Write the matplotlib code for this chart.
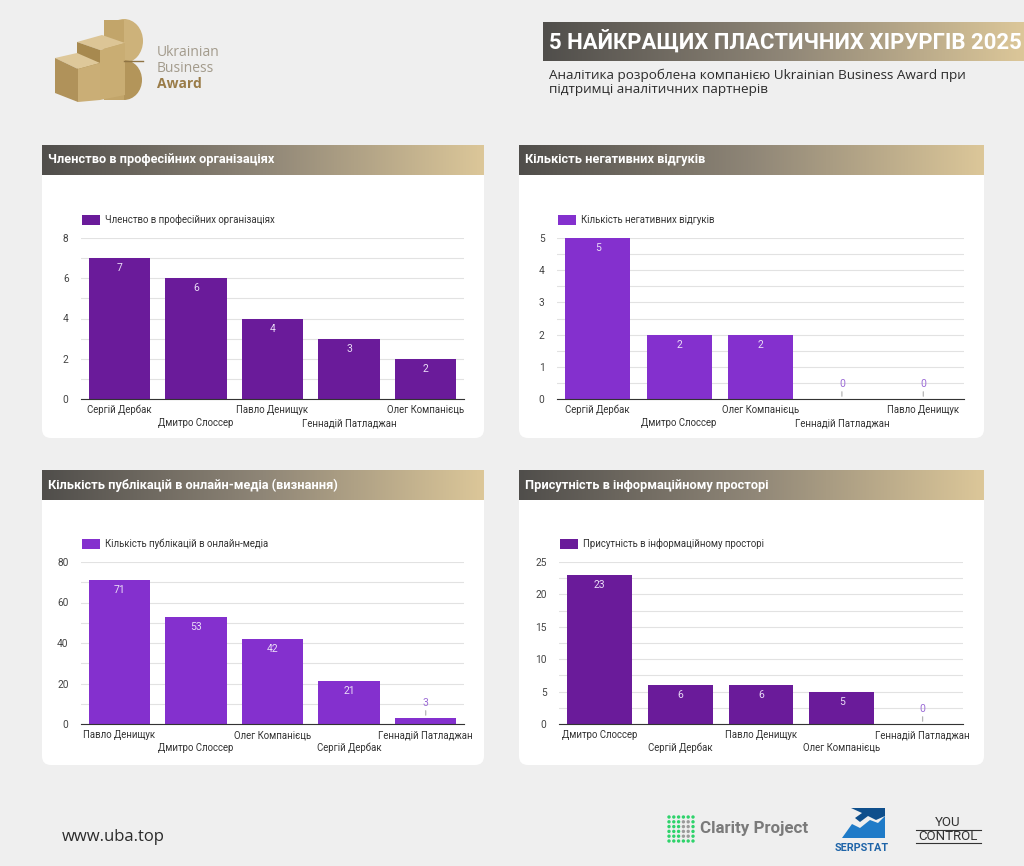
import numpy as np
import matplotlib
matplotlib.use("Agg")
import matplotlib.pyplot as plt
from matplotlib.patches import FancyBboxPatch, Rectangle, Polygon, Circle, Ellipse
from matplotlib.colors import LinearSegmentedColormap

plt.rcParams['font.family'] = ['Roboto', 'DejaVu Sans']

# ---- data ----
membership_names = ['Сергій Дербак', 'Дмитро Слоссер', 'Павло Денищук', 'Геннадій Патладжан', 'Олег Компанієць']
membership_values = [7, 6, 4, 3, 2]

negative_names = ['Сергій Дербак', 'Дмитро Слоссер', 'Олег Компанієць', 'Геннадій Патладжан', 'Павло Денищук']
negative_values = [5, 2, 2, 0, 0]

publication_names = ['Павло Денищук', 'Дмитро Слоссер', 'Олег Компанієць', 'Сергій Дербак', 'Геннадій Патладжан']
publication_values = [71, 53, 42, 21, 3]

presence_names = ['Дмитро Слоссер', 'Сергій Дербак', 'Павло Денищук', 'Олег Компанієць', 'Геннадій Патладжан']
presence_values = [23, 6, 6, 5, 0]

W, H = 1024, 866
DARK_PURPLE = '#6a1b9a'
LIGHT_PURPLE = '#8430ce'

fig = plt.figure(figsize=(W / 100, H / 100), dpi=100)
fig.patch.set_facecolor('#efefef')
bg = fig.add_axes([0, 0, 1, 1])
bg.set_facecolor('#efefef')
gold_cmap = LinearSegmentedColormap.from_list('gold', ['#504e4b', '#8f8677', '#dcc799'])


def gradient_bar(x0, y0, x1, y1):
    grad = np.linspace(0, 1, 256)[None, :]
    bg.imshow(grad, extent=[x0, x1, y1, y0], aspect='auto', cmap=gold_cmap, zorder=2)


def px_axes(x0, y0, x1, y1):
    return fig.add_axes([x0 / W, 1 - y1 / H, (x1 - x0) / W, (y1 - y0) / H])


# ---- header ----
gradient_bar(543, 22, 1024, 61)
bg.text(549, 42, '5 НАЙКРАЩИХ ПЛАСТИЧНИХ ХІРУРГІВ 2025', color='white',
        fontsize=15.9, fontweight='bold', va='center', ha='left', zorder=3)
bg.text(549, 75, 'Аналітика розроблена компанією Ukrainian Business Award при',
        family=['Open Sans', 'DejaVu Sans'], fontsize=9.7, color='#2b2b2b', va='center')
bg.text(549, 90, 'підтримці аналітичних партнерів',
        family=['Open Sans', 'DejaVu Sans'], fontsize=9.7, color='#2b2b2b', va='center')

# logo (simplified gold blocks)
bg.add_patch(Ellipse((124, 41), 38, 44, fc='#cdb27a', ec='none', zorder=2.8))
bg.add_patch(Ellipse((124, 80), 36, 40, fc='#b3955a', ec='none', zorder=2.8))
bg.add_patch(Rectangle((104, 20), 20, 80, fc='#c2a56a', ec='none', zorder=2.85))
logo_parts = [
    ([(77, 42), (102, 35), (125, 43), (100, 50)], '#dcc596'),
    ([(77, 42), (100, 50), (100, 100), (77, 92)], '#a7894f'),
    ([(100, 50), (125, 43), (125, 95), (100, 100)], '#c9ad73'),
    ([(55, 58), (77, 53), (100, 63), (78, 69)], '#dec89a'),
    ([(55, 58), (78, 69), (78, 102), (55, 93)], '#b0925a'),
    ([(78, 69), (100, 63), (100, 100), (78, 102)], '#caae76'),
]
for pts, col in logo_parts:
    bg.add_patch(Polygon(pts, closed=True, fc=col, ec='none', zorder=3))
bg.plot([124, 143], [61, 61], color='#8f7444', lw=1, zorder=3)
bg.text(157, 52, 'Ukrainian', family=['Open Sans', 'DejaVu Sans'], fontsize=10,
        color='#a39b8c', va='center')
bg.text(157, 68, 'Business', family=['Open Sans', 'DejaVu Sans'], fontsize=10,
        color='#a39b8c', va='center')
bg.text(157, 84, 'Award', family=['Open Sans', 'DejaVu Sans'], fontsize=10,
        color='#9a7c48', va='center', fontweight='bold')


# ---- panels ----
def panel(box, plot, title, legend, names, values, color, ticks):
    x0, y0, x1, y1 = box
    bg.add_patch(FancyBboxPatch((x0, y0), x1 - x0, y1 - y0,
                                boxstyle='round,pad=0,rounding_size=9',
                                fc='white', ec='none', zorder=1))
    gradient_bar(x0, y0, x1, y0 + 30)
    bg.text(x0 + 6, y0 + 15, title, color='white', fontsize=9.2,
            fontweight='bold', va='center', zorder=3)

    px0, py0, px1, py1 = plot
    bg.add_patch(Rectangle((px0 + 1, py0 - 23), 18, 10, fc=color, ec='none', zorder=3))
    bg.text(px0 + 24, py0 - 18, legend, fontsize=6.9, color='#333333', va='center', zorder=3)

    ax = px_axes(*plot)
    n = len(values)
    ymax = ticks[-1]
    step = ticks[1] - ticks[0]
    ax.bar(range(n), values, width=0.8, color=color, zorder=2)
    ax.set_xlim(-0.5, n - 0.5)
    ax.set_ylim(0, ymax)
    ax.set_yticks(ticks)
    ax.set_yticks(np.arange(step / 2, ymax, step), minor=True)
    ax.grid(axis='y', which='both', color='#e2e2e2', lw=0.8, zorder=0)
    ax.set_xticks([])
    ax.tick_params(axis='y', which='both', length=0, pad=9, labelsize=7.3, labelcolor='#444444')
    for s in ['top', 'right', 'left']:
        ax.spines[s].set_visible(False)
    ax.spines['bottom'].set_color('#333333')
    ax.spines['bottom'].set_zorder(3)
    ax.set_facecolor('none')

    height_px = py1 - py0
    for i, (name, v) in enumerate(zip(names, values)):
        off = -11 if i % 2 == 0 else -24
        ax.annotate(name, (i, 0), xycoords=('data', 'axes fraction'),
                    xytext=(0, off), textcoords='offset pixels',
                    ha='center', va='center', fontsize=6.9, color='#333333',
                    annotation_clip=False)
        if v / ymax * height_px < 18:
            ax.annotate(str(v), (i, v), xytext=(0, 15), textcoords='offset pixels',
                        ha='center', va='center', fontsize=7.5, color='#9b6bd6',
                        annotation_clip=False)
            ax.annotate('', (i, v), xytext=(0, 10), textcoords='offset pixels',
                        arrowprops=dict(arrowstyle='-', color='#b5b5b5', lw=0.9))
        else:
            ax.annotate(str(v), (i, v), xytext=(0, -10), textcoords='offset pixels',
                        ha='center', va='center', fontsize=7.5, color='#eadcf7')
    return ax


panel((42, 145, 484, 438), (81, 238, 464, 399),
      'Членство в професійних організаціях', 'Членство в професійних організаціях',
      membership_names, membership_values, DARK_PURPLE, [0, 2, 4, 6, 8])
panel((519, 145, 984, 438), (557, 238, 964, 399),
      'Кількість негативних відгуків', 'Кількість негативних відгуків',
      negative_names, negative_values, LIGHT_PURPLE, [0, 1, 2, 3, 4, 5])
panel((42, 470, 484, 765), (81, 562, 464, 724),
      'Кількість публікацій в онлайн-медіа (визнання)', 'Кількість публікацій в онлайн-медіа',
      publication_names, publication_values, LIGHT_PURPLE, [0, 20, 40, 60, 80])
panel((519, 470, 984, 765), (559, 562, 963, 724),
      'Присутність в інформаційному просторі', 'Присутність в інформаційному просторі',
      presence_names, presence_values, DARK_PURPLE, [0, 5, 10, 15, 20, 25])

# ---- footer ----
bg.text(62, 837, 'www.uba.top', family=['Open Sans', 'DejaVu Sans'], fontsize=12,
        color='#2b2b2b', va='center')

# Clarity Project logo
for r in range(6):
    for c in range(6):
        col = '#2ed36b' if (c < 3 or r in (0, 5) or c == 5) else '#9a9a9a'
        bg.add_patch(Circle((669 + c * 4.8, 817 + r * 4.8), 1.7, fc=col, ec='none', zorder=3))
bg.text(700, 829, 'Clarity Project', fontsize=12.2, fontweight='bold', color='#7a7a7a', va='center')

# Serpstat logo
bg.add_patch(Polygon([(842, 838), (852, 824), (860, 828), (870, 820), (878, 823), (885, 816), (885, 838)],
                     closed=True, fc='#1f7bc8', ec='none', zorder=3))
bg.add_patch(Polygon([(851, 808), (885, 808), (885, 816), (876, 820), (868, 816), (860, 822), (855, 818), (862, 813)],
                     closed=True, fc='#0f4f8c', ec='none', zorder=3))
bg.text(862, 848, 'SERPSTAT', fontsize=7.8, fontweight='bold', color='#1e64a8',
        va='center', ha='center')

# YouControl logo
bg.text(948, 822, 'YOU', fontsize=9.5, color='#333333', va='center', ha='center')
bg.plot([916, 981], [829.5, 829.5], color='#333333', lw=0.8)
bg.text(948, 836, 'CONTROL', fontsize=9.5, color='#333333', va='center', ha='center')
bg.plot([916, 981], [843, 843], color='#333333', lw=0.8)

bg.set_xlim(0, W)
bg.set_ylim(H, 0)
bg.axis('off')

fig.savefig('out.png', dpi=100, facecolor=fig.get_facecolor())
